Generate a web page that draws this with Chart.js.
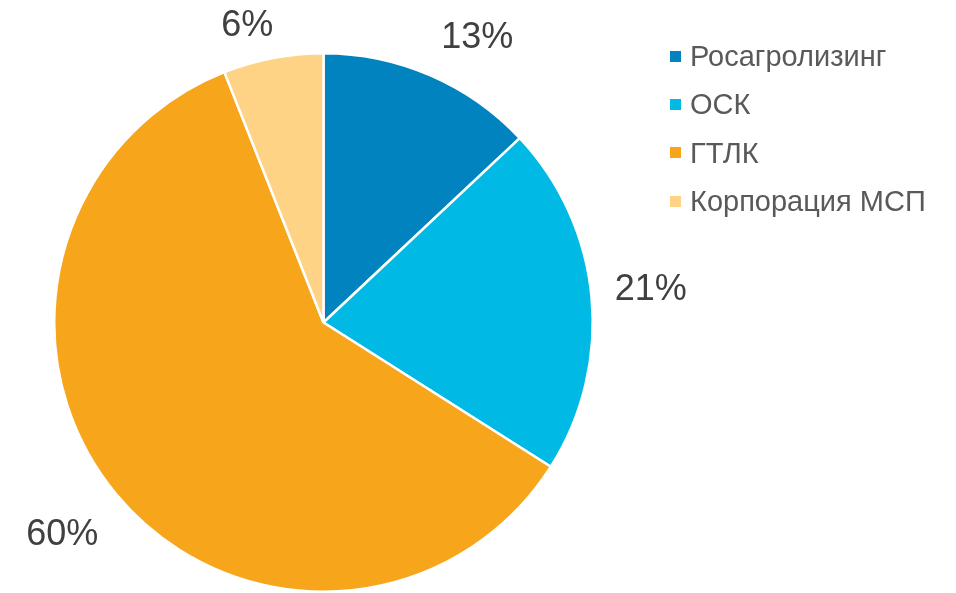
<!DOCTYPE html>
<html>
<head>
<meta charset="utf-8">
<script src="https://cdn.jsdelivr.net/npm/chart.js@4"></script>
<style>
  body { margin: 0; background: #fff; }
  #wrap { position: relative; width: 956px; height: 593px; }
  #legend { position: absolute; left: 670px; top: 32px; font-family: "Liberation Sans", Arial, sans-serif; font-size: 29px; color: #595959; }
  .item { height: 48.3px; line-height: 48.3px; white-space: nowrap; }
  .box { display: inline-block; width: 11px; height: 11px; margin-right: 9px; vertical-align: middle; position: relative; top: -2px; }
</style>
</head>
<body>
<div id="wrap">
  <canvas id="pieChart"></canvas>
  <div id="legend"></div>
</div>
<script>
// chart data
const categories = ['Росагролизинг', 'ОСК', 'ГТЛК', 'Корпорация МСП'];
const shares = [13, 21, 60, 6];
const sliceColors = ['#0083BE', '#00BAE5', '#F7A61B', '#FED385'];
// small angle nudges (degrees) and gaps (px) so labels sit like in the original
const labelNudge = [5, -0.2, 0.5, -3.6];
const labelGap = [21, 22, 28, 13];

// plugin that writes the percentage next to each slice
const outsideLabels = {
    id: 'outsideLabels',
    afterDatasetsDraw(chart) {
        const c = chart.ctx;
        const meta = chart.getDatasetMeta(0);
        c.save();
        c.font = '36px "Liberation Sans", Arial, sans-serif';
        c.fillStyle = '#404040';
        c.textAlign = 'center';
        c.textBaseline = 'middle';
        meta.data.forEach((arc, i) => {
            const text = shares[i] + '%';
            const mid = (arc.startAngle + arc.endAngle) / 2 + labelNudge[i] * Math.PI / 180;
            const dx = Math.cos(mid), dy = Math.sin(mid);
            const halfW = c.measureText(text).width / 2;
            const halfH = 18;
            const dist = arc.outerRadius + labelGap[i] + Math.abs(dx) * halfW + Math.abs(dy) * halfH;
            c.fillText(text, arc.x + dx * dist, arc.y + dy * dist);
        });
        c.restore();
    }
};

new Chart(document.getElementById('pieChart'), {
    type: 'pie',
    data: {
        labels: categories,
        datasets: [{
            data: shares,
            backgroundColor: sliceColors,
            borderColor: '#ffffff',
            borderWidth: 2.5
        }]
    },
    options: {
        responsive: true,
        maintainAspectRatio: false,
        animation: false,
        layout: { padding: { left: 52, top: 52, right: 361, bottom: 0 } },
        plugins: {
            legend: { display: false },
            tooltip: { enabled: false }
        }
    },
    plugins: [outsideLabels]
});

// html legend on the right
const legend = document.getElementById('legend');
categories.forEach((name, i) => {
    const row = document.createElement('div');
    row.className = 'item';
    const box = document.createElement('span');
    box.className = 'box';
    box.style.background = sliceColors[i];
    row.appendChild(box);
    row.appendChild(document.createTextNode(name));
    legend.appendChild(row);
});
</script>
</body>
</html>
